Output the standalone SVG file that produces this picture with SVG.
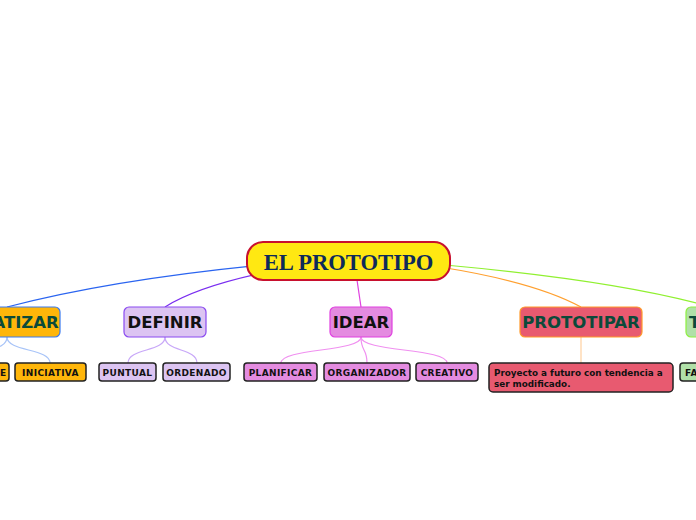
<svg xmlns="http://www.w3.org/2000/svg" width="696" height="520" viewBox="0 0 696 520">
<style>
.main{font-family:"DejaVu Sans",sans-serif;font-weight:bold;font-size:16.5px;text-anchor:middle}
.sub{font-family:"DejaVu Sans",sans-serif;font-weight:bold;font-size:9px;letter-spacing:0.35px;text-anchor:middle;fill:#111}
.sb{stroke:#222;stroke-width:1.5}
.c{fill:none;stroke-width:1.2}
</style>
<rect width="696" height="520" fill="#fff"/>
<g id="connectors">
<path class="c" d="M262 265 Q110 280 7 307" stroke="#2a64f0"/>
<path class="c" d="M258 274 Q195 288 165 307" stroke="#7a2ef0"/>
<path class="c" d="M357 280 L361 307" stroke="#e040e0"/>
<path class="c" d="M440 267 Q535 282 581 307" stroke="#ffa030"/>
<path class="c" d="M445 265 Q610 280 700 304" stroke="#90f030"/>
<path class="c" d="M7 337 C7 352 -25 348 -25 363" stroke="#a8c4f8"/>
<path class="c" d="M7 337 C7 352 50 348 50 363" stroke="#a8c4f8"/>
<path class="c" d="M165 337 C165 352 128 348 128 363" stroke="#c8a8f8"/>
<path class="c" d="M165 337 C165 352 197 348 197 363" stroke="#c8a8f8"/>
<path class="c" d="M361 337 C361 352 281 348 281 363" stroke="#f090f0"/>
<path class="c" d="M361 337 C361 352 367 348 367 363" stroke="#f090f0"/>
<path class="c" d="M361 337 C361 352 447 348 447 363" stroke="#f090f0"/>
<path class="c" d="M581 337 L581 363" stroke="#ffd0a0"/>
</g>
<g id="central">
<rect x="247" y="242" width="203" height="38" rx="16" fill="#ffe812" stroke="#c8102e" stroke-width="2"/>
<text x="348.5" y="269.5" font-family="Liberation Serif,serif" font-weight="bold" font-size="22.6" text-anchor="middle" fill="#0e2a5a">EL PROTOTIPO</text>
</g>
<g id="empatizar">
<rect x="-47" y="307" width="107" height="30" rx="5" fill="#ffb60a" stroke="#3a7bf0" stroke-width="1.2"/>
<text class="main" x="6.5" y="328" fill="#0b4a3a">EMPATIZAR</text>
</g>
<g id="definir">
<rect x="124" y="307" width="82" height="30" rx="5" fill="#dcc4f2" stroke="#8a4af0" stroke-width="1.2"/>
<text class="main" x="165" y="328" fill="#111">DEFINIR</text>
</g>
<g id="idear">
<rect x="330" y="307" width="62" height="30" rx="5" fill="#e48be0" stroke="#e040e0" stroke-width="1.2"/>
<text class="main" x="361" y="328" fill="#111">IDEAR</text>
</g>
<g id="prototipar">
<rect x="520" y="307" width="122" height="30" rx="5" fill="#e85a70" stroke="#ff9a2a" stroke-width="1.2"/>
<text class="main" x="581" y="328" fill="#0b4a3a">PROTOTIPAR</text>
</g>
<g id="testear">
<rect x="686" y="307" width="100" height="30" rx="5" fill="#b0e0a8" stroke="#8ef040" stroke-width="1.2"/>
<text class="main" x="689" y="328" fill="#0b4a3a" style="text-anchor:start">T</text>
</g>
<g id="child-e">
<rect class="sb" x="-60" y="363" width="69" height="18" rx="3" fill="#ffb60a"/>
<text class="sub" x="6.5" y="375.5" style="text-anchor:end">E</text>
</g>
<g id="iniciativa">
<rect class="sb" x="15" y="363" width="71" height="18" rx="3" fill="#ffb60a"/>
<text class="sub" x="50.5" y="375.5">INICIATIVA</text>
</g>
<g id="puntual">
<rect class="sb" x="99" y="363" width="57" height="18" rx="3" fill="#dcc4f2"/>
<text class="sub" x="127.5" y="375.5">PUNTUAL</text>
</g>
<g id="ordenado">
<rect class="sb" x="163" y="363" width="67" height="18" rx="3" fill="#dcc4f2"/>
<text class="sub" x="196.5" y="375.5">ORDENADO</text>
</g>
<g id="planificar">
<rect class="sb" x="244" y="363" width="73" height="18" rx="3" fill="#e48be0"/>
<text class="sub" x="280.5" y="375.5">PLANIFICAR</text>
</g>
<g id="organizador">
<rect class="sb" x="324" y="363" width="86" height="18" rx="3" fill="#e48be0"/>
<text class="sub" x="367" y="375.5">ORGANIZADOR</text>
</g>
<g id="creativo">
<rect class="sb" x="416" y="363" width="62" height="18" rx="3" fill="#e48be0"/>
<text class="sub" x="447" y="375.5">CREATIVO</text>
</g>
<g id="proyecto">
<rect class="sb" x="489" y="363" width="184" height="29" rx="4" fill="#e85a70"/>
<text font-family="DejaVu Sans,sans-serif" font-weight="bold" font-size="8.8" fill="#111"><tspan x="494" y="375.5">Proyecto a futuro con tendencia a</tspan><tspan x="494" y="386.5">ser modificado.</tspan></text>
</g>
<g id="child-fa">
<rect class="sb" x="680" y="363" width="60" height="18" rx="3" fill="#b0e0a8"/>
<text class="sub" x="685" y="375.5" style="text-anchor:start">FA</text>
</g>
</svg>
